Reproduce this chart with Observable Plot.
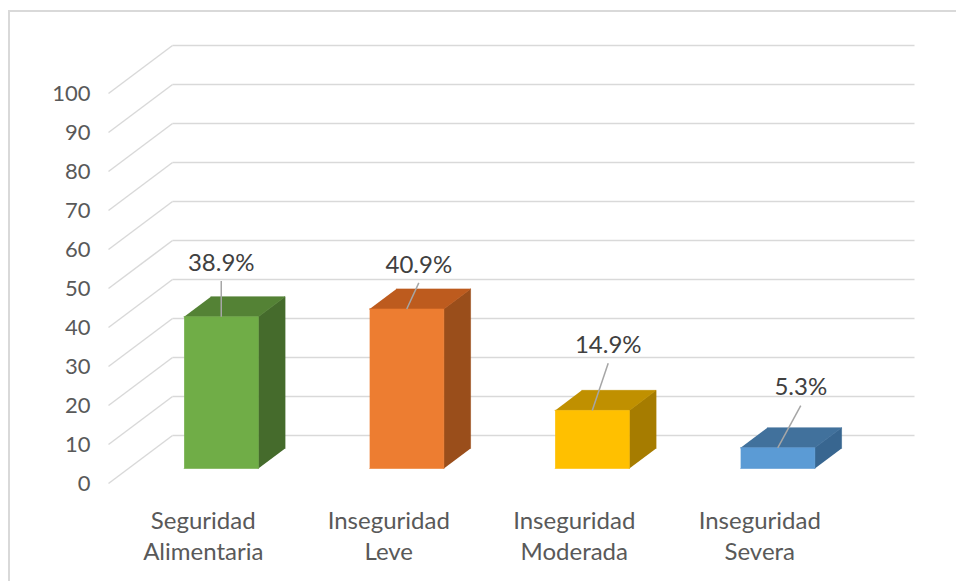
<!DOCTYPE html>
<html>
<head>
<meta charset="utf-8">
<script src="https://cdn.jsdelivr.net/npm/d3@7"></script>
<script src="https://cdn.jsdelivr.net/npm/@observablehq/plot@0.6"></script>
<style>
  html, body { margin: 0; padding: 0; background: #fff; }
  #wrap { position: relative; width: 956px; height: 581px; overflow: hidden; }
  #border { position: absolute; left: 8px; top: 10px; width: 1000px; height: 700px;
            border-left: 2px solid #d9d9d9; border-top: 2px solid #d9d9d9; box-sizing: border-box; }
  #chart { position: absolute; left: 0; top: 0; }
  svg { font-family: Lato, "Open Sans", sans-serif; }
</style>
</head>
<body>
<div id="wrap"><div id="border"></div><div id="chart"></div></div>
<script>
// ---- data ----
const categories = ["Seguridad\nAlimentaria", "Inseguridad\nLeve", "Inseguridad\nModerada", "Inseguridad\nSevera"];
const values = [38.9, 40.9, 14.9, 5.3];
const valueLabels = ["38.9%", "40.9%", "14.9%", "5.3%"];
const yTicks = [0, 10, 20, 30, 40, 50, 60, 70, 80, 90, 100];

// ---- styles ----
const frontColors = ["#70ad47", "#ed7d31", "#ffc000", "#5b9bd5"];
const topColors   = ["#548235", "#bd5b1e", "#c09000", "#41719c"];
const sideColors  = ["#456b2c", "#9a4e1b", "#a67c00", "#386690"];
// label leader offsets (category units, value units), relative to bar top front centre
const labelNudgeX = [0, 0.065, 0.086, 0.124];
const labelNudgeY = [9.2, 6.7, 12.1, 10.8];

// ---- oblique 3D projection in data units ----
const kx = 0.345;       // depth -> x (category units)
const ky = 12.31;       // depth -> y (value units)
const tF = 0.3125, tB = 0.73;   // bar front / back depth
const halfW = 0.2;
const P = (x, v, t) => ({X: x + t * kx, Y: v + t * ky});

const polys = [];
values.forEach((v, i) => {
  const xl = i - halfW, xr = i + halfW;
  const faces = [
    {name: "side", color: sideColors[i], pts: [P(xr, 0, tF), P(xr, v, tF), P(xr, v, tB), P(xr, 0, tB)]},
    {name: "top", color: topColors[i], pts: [P(xl, v, tF), P(xr, v, tF), P(xr, v, tB), P(xl, v, tB)]},
    {name: "front", color: frontColors[i], pts: [P(xl, 0, tF), P(xr, 0, tF), P(xr, v, tF), P(xl, v, tF)]}
  ];
  faces.forEach(f => f.pts.forEach(p => polys.push({...p, id: `${i}-${f.name}`, color: f.color})));
});

const anchors = values.map((v, i) => P(i, v, tF));
const labelPts = anchors.map((a, i) => ({X: a.X + labelNudgeX[i], Y: a.Y + labelNudgeY[i], text: valueLabels[i]}));
const leaders = anchors.map((a, i) => ({x1: a.X, y1: a.Y, x2: labelPts[i].X, y2: labelPts[i].Y}));

const chart = Plot.plot({
  width: 956,
  height: 581,
  marginLeft: 108,
  marginRight: 42,
  marginTop: 45,
  marginBottom: 98,
  x: {domain: [-0.5, 3.5 + kx], axis: null},
  y: {domain: [0, 100 + ky], axis: null},
  color: {type: "identity"},
  marks: [
    // diagonal side-wall grid lines
    Plot.link(yTicks, {x1: -0.5, y1: d => d, x2: -0.5 + kx, y2: d => d + ky, stroke: "#d9d9d9", strokeWidth: 1.5}),
    // back-wall grid lines
    Plot.link(yTicks, {x1: -0.5 + kx, y1: d => d + ky, x2: 3.5 + kx, y2: d => d + ky, stroke: "#d9d9d9", strokeWidth: 1.5}),
    // y axis labels
    Plot.axisY({ticks: yTicks, tickSize: 0, tickPadding: 18, fontSize: 22, fill: "#595959", label: null}),
    // bar faces
    Plot.line(polys, {x: "X", y: "Y", z: "id", fill: "color", stroke: "color", strokeWidth: 0.6, curve: "linear"}),
    // leader lines
    Plot.link(leaders, {x1: "x1", y1: "y1", x2: "x2", y2: "y2", stroke: "#a6a6a6", strokeWidth: 1.5}),
    // value labels
    Plot.text(labelPts, {x: "X", y: "Y", text: "text", dy: -18, fontSize: 24, fill: "#404040"}),
    // category labels
    Plot.text(categories, {x: (d, i) => i, y: 0, text: d => d, dx: 2, dy: 51, fontSize: 24, fill: "#595959", lineHeight: 1.28})
  ]
});
document.getElementById("chart").appendChild(chart);
</script>
</body>
</html>
